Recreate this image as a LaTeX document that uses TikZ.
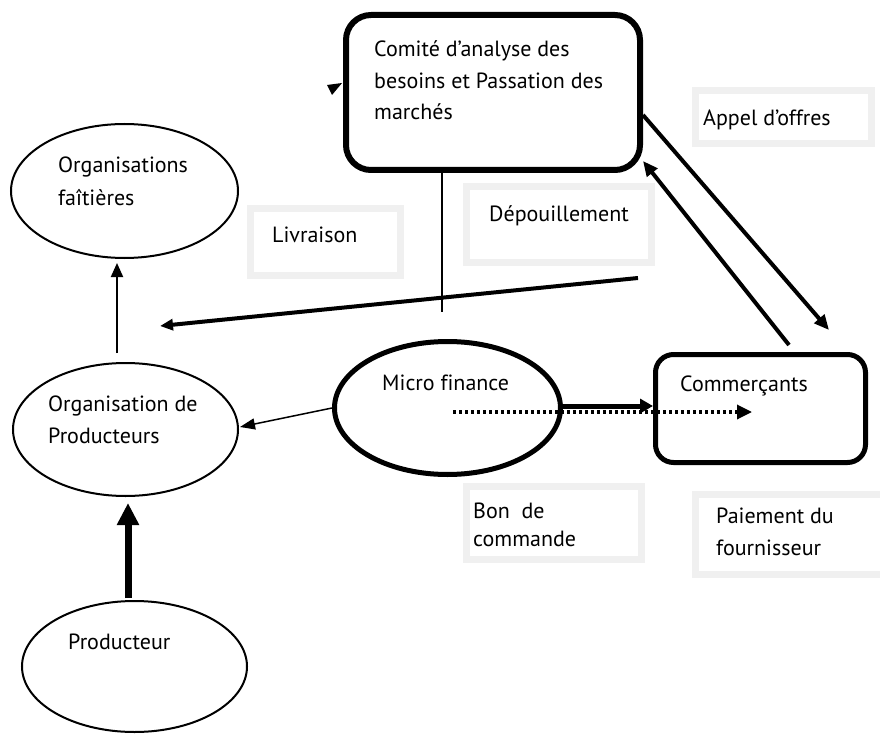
\documentclass[tikz,border=0pt]{standalone}
\usepackage{fontspec}
\setmainfont{PT Sans}[Ligatures=NoCommon]
\usetikzlibrary{arrows.meta,shapes.geometric}
\definecolor{lblgray}{RGB}{240,240,240}
\begin{document}
\begin{tikzpicture}[x=1pt,y=-1pt,
  txt/.style={anchor=base west, inner sep=0, font=\fontsize{22}{31.2}\selectfont, align=left},
  lbl/.style={draw=lblgray, line width=7pt, rectangle, inner sep=0},
  ellthin/.style={draw, ellipse, inner sep=0, line width=2pt},
  ellthick/.style={draw, ellipse, inner sep=0, line width=5pt},
  conn/.style={line width=#1, line cap=butt},
]
\useasboundingbox (0,0) rectangle (880,735);
% label boxes
\node[lbl, minimum width=150pt, minimum height=67pt] (livbox) at (325.5,242) {};
\node[lbl, minimum width=185pt, minimum height=76pt] (depbox) at (559,224.5) {};
\node[lbl, minimum width=176pt, minimum height=53pt] (appbox) at (783.5,117) {};
\node[lbl, minimum width=175pt, minimum height=73pt] (bonbox) at (554,523) {};
\node[lbl, minimum width=190.5pt, minimum height=80pt] (paibox) at (790.75,534.5) {};
% main nodes
\node[draw, rectangle, rounded corners=25pt, line width=6pt, minimum width=294pt, minimum height=155pt, inner sep=0] (topbox) at (493,92.5) {};
\node[draw, rectangle, rounded corners=18pt, line width=5pt, minimum width=210pt, minimum height=108pt, inner sep=0] (comm) at (760.5,408.5) {};
\node[ellthick, minimum width=226pt, minimum height=133pt] (micro) at (447.5,408) {};
\node[ellthin, minimum width=227pt, minimum height=134pt] (faitieres) at (124.5,191) {};
\node[ellthin, minimum width=225pt, minimum height=133pt] (orgprod) at (125.5,429.5) {};
\node[ellthin, minimum width=225pt, minimum height=131pt] (prod) at (134.5,666.5) {};
% texts (anchor = baseline of the last line)
\node[txt] (ttop) at (374,119.4) {Comité d’analyse des\\besoins et Passation des\\marchés};
\node[txt] (tliv) at (272,243) {Livraison};
\node[txt] (tdep) at (489,222) {Dépouillement};
\node[txt] (tapp) at (703,126) {Appel d’offres};
\node[txt] (tmicro) at (382,390) {Micro finance};
\node[txt] (tcomm) at (680,391) {Commerçants};
\node[txt, font=\fontsize{22}{28}\selectfont] (tbon) at (473,546) {Bon\ \ de\\commande};
\node[txt] (tpai) at (716,555) {Paiement du\\fournisseur};
\node[txt, font=\fontsize{22}{33}\selectfont] (tfait) at (58,206) {Organisations\\faîtières};
\node[txt] (torg) at (48,443) {Organisation de\\Producteurs};
\node[txt] (tprod) at (68,649) {Producteur};
% free ends
\coordinate (livA) at (638,278);
\coordinate (livB) at (160,326);
\coordinate (vend) at (442,312);
% connectors
\draw[conn=4pt, -{Triangle[length=15pt,width=13pt]}] ([shift={(0,22.5)}]topbox.east) -- ([shift={(68.5,-22)}]comm.north);
\draw[conn=4pt, -{Triangle[length=15pt,width=13pt]}] ([shift={(28.5,-7)}]comm.north) -- ([shift={(0,68.5)}]topbox.east);
\draw[conn=4pt, -{Triangle[length=13pt,width=11pt]}] (livA) -- (livB);
\draw[conn=2.5pt] ([xshift=-51pt]topbox.south) -- (vend);
\draw[conn=2pt, -{Triangle[length=14pt,width=12pt]}] ([shift={(-8.5,-9)}]orgprod.north) -- ([shift={(-7.5,4)}]faitieres.south);
\draw[conn=1.5pt, -{Triangle[length=15pt,width=11pt]}] (micro.west) -- ([shift={(1,-2.5)}]orgprod.east);
\draw[conn=7pt, -{Triangle[length=22pt,width=21pt]}] ([shift={(-6.5,-2)}]prod.north) -- ([shift={(2.5,6)}]orgprod.south);
\draw[conn=5pt, -{Triangle[length=13pt,width=14pt]}] ([yshift=2pt]micro.east) -- ([yshift=2.5pt]comm.west);
\draw[line width=3.3pt, dash pattern=on 3.3pt off 2.7pt, -{Triangle[length=15pt,width=14pt]}] ([shift={(5.5,4)}]micro.center) -- ([shift={(-8.5,3.5)}]comm.center);
% small stray arrowhead
\fill (327,85) -- (342,83) -- (332,95) -- cycle;
\end{tikzpicture}
\end{document}
